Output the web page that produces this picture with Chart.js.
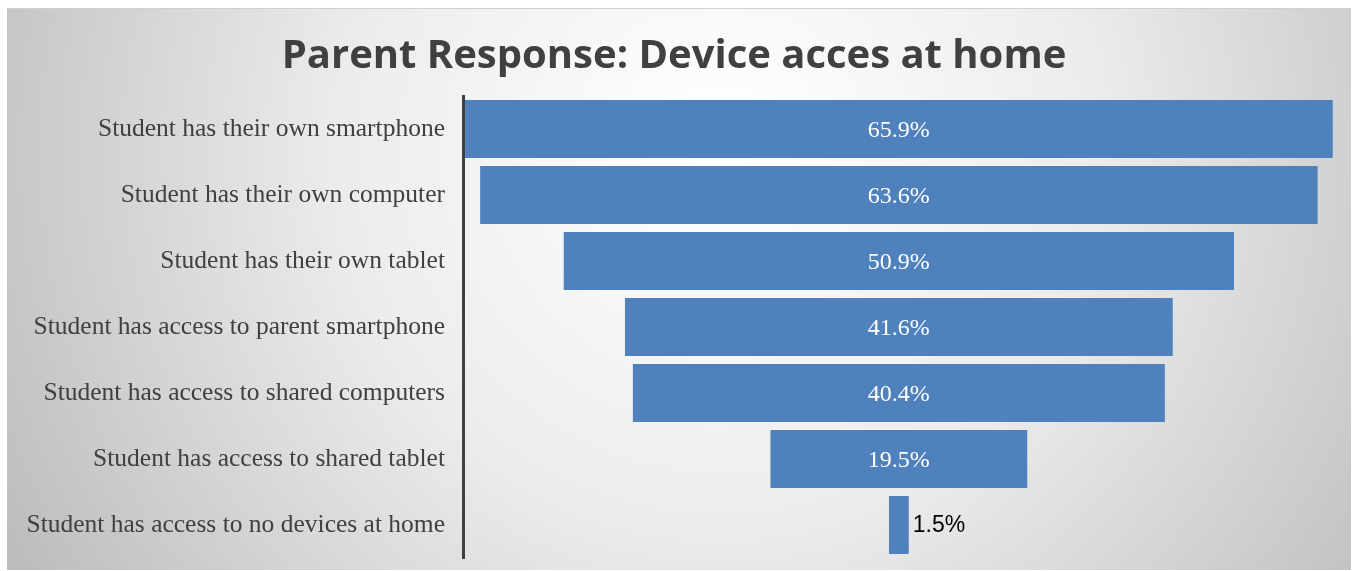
<!DOCTYPE html>
<html>
<head>
<meta charset="utf-8">
<script src="https://cdn.jsdelivr.net/npm/chart.js@4.4.1/dist/chart.umd.min.js"></script>
<style>
  html, body { margin: 0; padding: 0; background: #ffffff; }
  #wrap { position: relative; width: 1356px; height: 571px; }
</style>
</head>
<body>
<div id="wrap"><canvas id="funnel" width="1356" height="571"></canvas></div>
<script>
const categories = [
    'Student has their own smartphone',
    'Student has their own computer',
    'Student has their own tablet',
    'Student has access to parent smartphone',
    'Student has access to shared computers',
    'Student has access to shared tablet',
    'Student has access to no devices at home'
];
const percents = [65.9, 63.6, 50.9, 41.6, 40.4, 19.5, 1.5];
const chartTitle = 'Parent Response: Device acces at home';

// panel background with soft grey radial shading
const panelBg = {
    id: 'panelBg',
    beforeDraw(chart) {
        const c = chart.ctx;
        c.save();
        c.fillStyle = '#ffffff';
        c.fillRect(0, 0, chart.width, chart.height);
        const g = c.createRadialGradient(720, 150, 20, 720, 150, 820);
        g.addColorStop(0, '#ffffff');
        g.addColorStop(0.45, '#ececec');
        g.addColorStop(1, '#bcbcbc');
        c.fillStyle = g;
        c.fillRect(7, 8, 1344, 562);
        c.strokeStyle = '#d0d0d0';
        c.lineWidth = 1;
        c.beginPath();
        c.moveTo(7, 8.5);
        c.lineTo(1351, 8.5);
        c.stroke();
        c.restore();
    }
};

// value labels on the bars
const barLabels = {
    id: 'barLabels',
    afterDatasetsDraw(chart) {
        const c = chart.ctx;
        const meta = chart.getDatasetMeta(0);
        c.save();
        c.textBaseline = 'middle';
        meta.data.forEach((bar, i) => {
            const txt = percents[i].toFixed(1) + '%';
            const w = Math.abs(bar.x - bar.base);
            if (w > 60) {
                c.font = '24px "Liberation Serif", serif';
                c.fillStyle = '#ffffff';
                c.textAlign = 'center';
                c.fillText(txt, (bar.x + bar.base) / 2, bar.y + 2);
            } else {
                c.font = '23px "Liberation Sans", Arial, sans-serif';
                c.fillStyle = '#000000';
                c.textAlign = 'left';
                c.fillText(txt, Math.max(bar.x, bar.base) + 4, bar.y + 1);
            }
        });
        c.restore();
    }
};

new Chart(document.getElementById('funnel'), {
    type: 'bar',
    data: {
        labels: categories,
        datasets: [{
            data: percents.map(v => [-v / 2, v / 2]),
            backgroundColor: '#4f81bd',
            borderWidth: 0,
            barPercentage: 0.88,
            categoryPercentage: 1
        }]
    },
    options: {
        indexAxis: 'y',
        responsive: false,
        animation: false,
        layout: { padding: { left: 8, right: 16, top: 0, bottom: 13 } },
        plugins: {
            legend: { display: false },
            tooltip: { enabled: false },
            title: {
                display: true,
                text: chartTitle,
                color: '#404040',
                font: { family: '"Open Sans", sans-serif', size: 40, weight: 'bold' },
                padding: { top: 33, bottom: 15 }
            }
        },
        scales: {
            x: {
                min: -33.1,
                max: 33.5,
                display: false
            },
            y: {
                afterFit(scale) {
                    scale.width = 455;
                    scale.paddingTop = 0;
                    scale.paddingBottom = 0;
                },
                grid: { display: false, drawTicks: false },
                border: { display: true, color: '#404040', width: 3 },
                ticks: {
                    padding: 18,
                    color: '#404040',
                    font: { family: '"Liberation Serif", serif', size: 25.5 }
                }
            }
        }
    },
    plugins: [panelBg, barLabels]
});
</script>
</body>
</html>
